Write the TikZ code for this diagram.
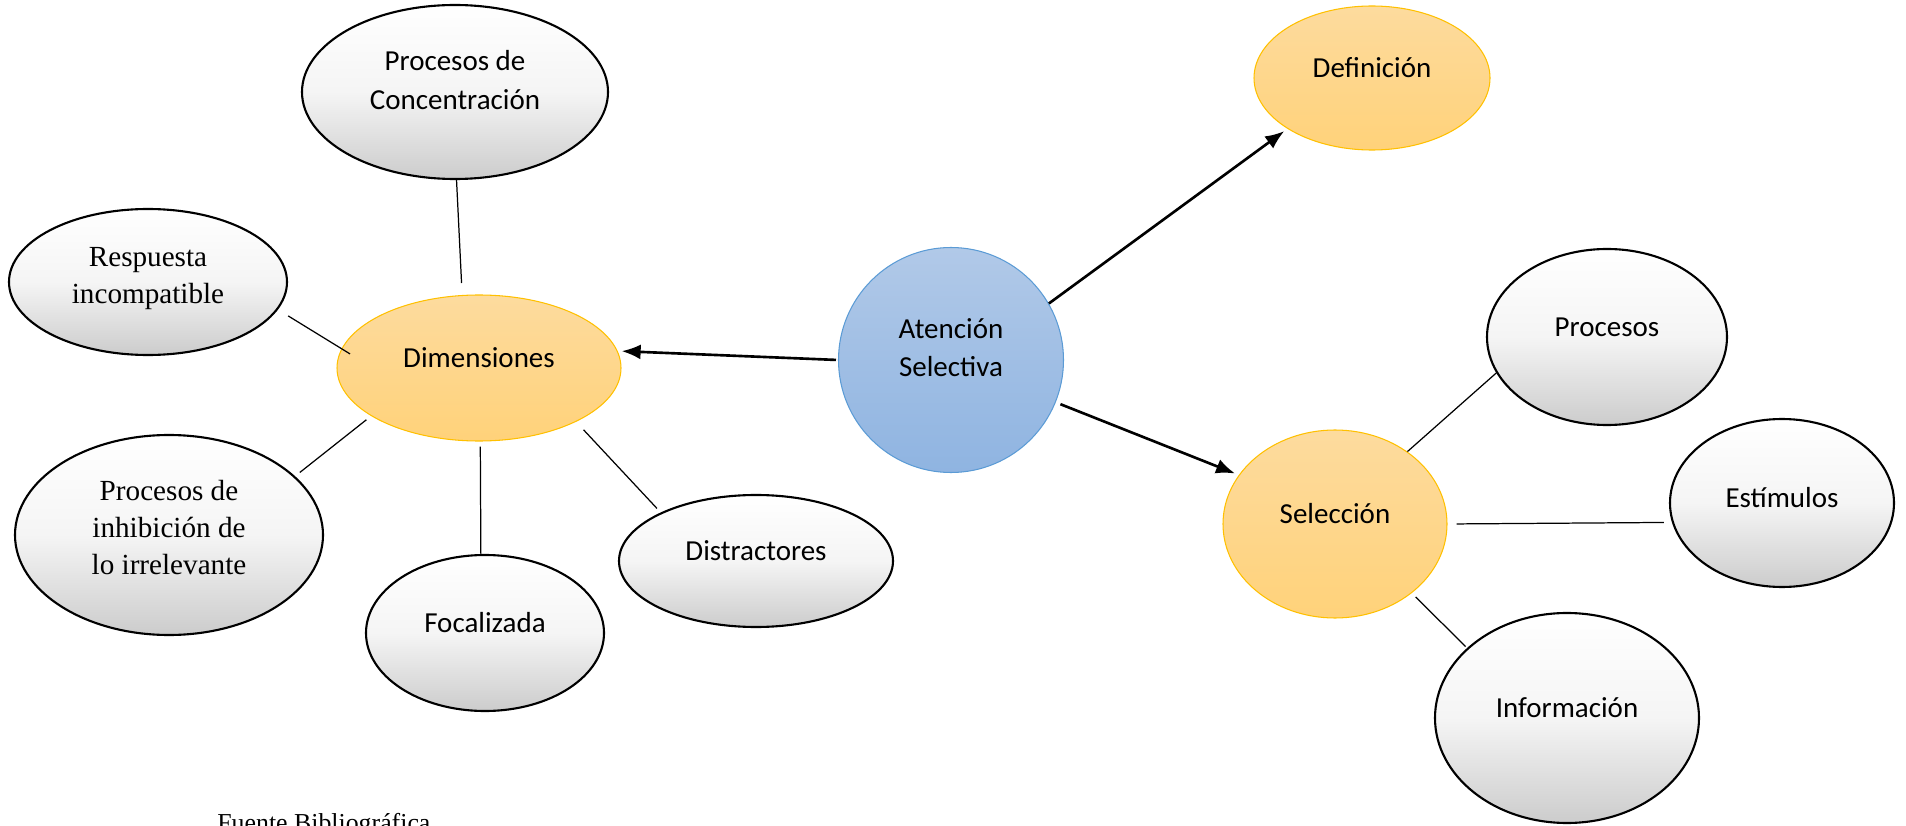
\documentclass[tikz,border=0pt]{standalone}
\usepackage{fontspec}
\setmainfont{Carlito}
\newfontfamily\timesfont{Liberation Serif}
\usetikzlibrary{shapes.geometric,arrows.meta,positioning,calc}
\definecolor{ornTop}{RGB}{253,219,158}
\definecolor{ornBot}{RGB}{255,210,122}
\definecolor{ornLine}{RGB}{255,192,0}
\definecolor{bluTop}{RGB}{177,201,232}
\definecolor{bluBot}{RGB}{143,180,225}
\definecolor{bluLine}{RGB}{91,155,213}
\newcommand{\lift}[2][0.2cm]{\raisebox{#1}[\height][\depth]{#2}}
\tikzset{
    oval/.style={draw, ellipse, line width=1.2pt, inner sep=0pt,
                 top color=white, bottom color=black!20, middle color=white!96!black,
                 font=\fontsize{16.5}{22}\selectfont},
    ovalT/.style={oval, font=\timesfont\fontsize{16.6}{21}\selectfont},
    hub/.style={draw=ornLine, ellipse, line width=0.6pt, inner sep=0pt,
                top color=ornTop, bottom color=ornBot,
                font=\fontsize{16.5}{22}\selectfont},
    core/.style={draw=bluLine, circle, line width=0.6pt, inner sep=0pt,
                 top color=bluTop, bottom color=bluBot, minimum size=4.5cm,
                 font=\fontsize{16.5}{21.5}\selectfont},
    link/.style={line width=0.7pt},
    flow/.style={line width=1.5pt, -{Latex[length=0.38cm,width=0.3cm]}},
}

\begin{document}
\begin{tikzpicture}
    \useasboundingbox (0,0) rectangle (38.12,16.5);

    % Centre
    \node[core] (aten) at (19.02,9.30) {\lift{\begin{tabular}{@{}c@{}}Atención\\Selectiva\end{tabular}}};

    % Dimensiones and its branches
    \node[hub, minimum width=5.68cm, minimum height=2.92cm] (dim) at (9.58,9.14) {\lift{Dimensiones}};
    \node[oval, minimum width=6.12cm, minimum height=3.48cm] (conc) at (9.10,14.66)
        {\lift{\begin{tabular}{@{}c@{}}Procesos de\\Concentración\end{tabular}}};
    \node[ovalT, minimum width=5.56cm, minimum height=2.92cm] (resp) at (2.96,10.86)
        {\lift[0.08cm]{\begin{tabular}{@{}c@{}}Respuesta\\incompatible\end{tabular}}};
    \node[ovalT, minimum width=6.16cm, minimum height=4.00cm] (inhib) at (3.38,5.80)
        {\lift[0.1cm]{\begin{tabular}{@{}c@{}}Procesos de\\inhibición de\\lo irrelevante\end{tabular}}};
    \node[oval, minimum width=4.76cm, minimum height=3.12cm] (foc) at (9.70,3.84) {\lift{Focalizada}};
    \node[oval, minimum width=5.48cm, minimum height=2.64cm] (dist) at (15.12,5.28) {\lift{Distractores}};

    % Definicion
    \node[hub, minimum width=4.72cm, minimum height=2.88cm] (defi) at (27.44,14.94) {\lift{Definición}};

    % Seleccion and its branches
    \node[hub, minimum width=4.48cm, minimum height=3.76cm] (sel) at (26.70,6.02) {\lift{Selección}};
    \node[oval, minimum width=4.80cm, minimum height=3.52cm] (proc) at (32.14,9.76) {\lift{Procesos}};
    \node[oval, minimum width=4.48cm, minimum height=3.36cm] (estim) at (35.64,6.44) {\lift[0.1cm]{Estímulos}};
    \node[oval, minimum width=5.28cm, minimum height=4.20cm] (info) at (31.34,2.14) {\lift{Información}};

    % Source line
    \node[anchor=base west, inner sep=0pt, font=\timesfont\fontsize{14.7}{17}\selectfont] (fuente)
        at (4.34,-0.12) {Fuente Bibliográfica};

    % Arrows from the centre
    \draw[flow, shorten <=0.04cm, shorten >=0.08cm] (aten.180) -- (dim.7);
    \draw[flow, shorten >=0.08cm] (aten.30) -- (defi.211);
    \draw[flow, shorten <=0.1cm, shorten >=0.08cm] (aten.-22) -- (sel.153);

    % Plain lines
    \draw[link, shorten >=0.24cm] (conc.-89) -- (dim.103);
    \draw[link, shorten <=0.24cm, shorten >=-0.2cm] (resp.-12) -- (dim.172);
    \draw[link, shorten <=0.12cm, shorten >=0.12cm] (inhib.25) -- (dim.204);
    \draw[link, shorten <=0.1cm] (dim.-89) -- (foc.93);
    \draw[link, shorten <=0.22cm, shorten >=0.11cm] (dim.-29) -- (dist.153);
    \draw[link] (sel.45) -- (proc.198);
    \draw[link, shorten <=0.18cm, shorten >=0.16cm] (sel.0) -- (estim.190);
    \draw[link, shorten <=0.11cm, shorten >=0.04cm] (sel.-42) -- (info.145);
\end{tikzpicture}
\end{document}
